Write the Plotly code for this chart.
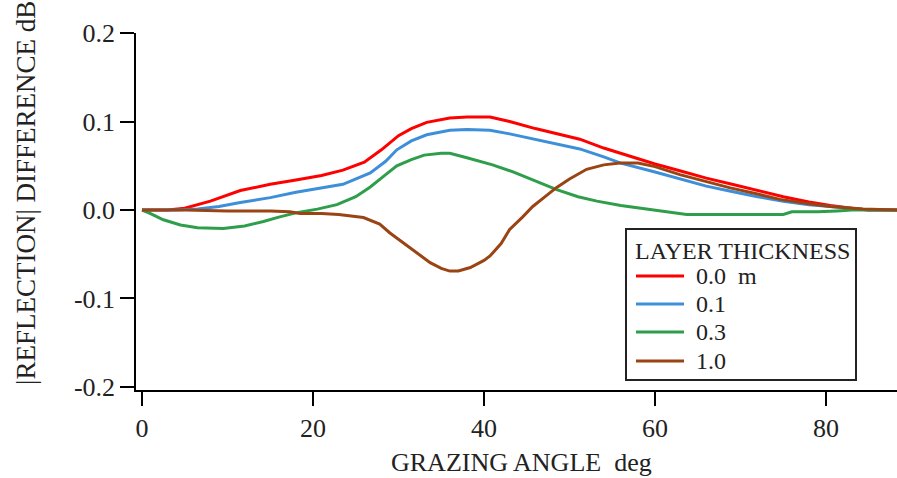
import plotly.graph_objects as go

# ---------------- data ----------------
series_names = ["0.0  m", "0.1", "0.3", "1.0"]
series_colors = ["#ff0000", "#3d8fd9", "#2e9e4a", "#9a4414"]

x_00 = [0, 3, 5, 8, 11.5, 15, 18, 21, 23.5, 26, 28, 30, 31.5, 33.3, 36, 38, 40.7, 43,
        46, 49, 51.2, 54, 57, 60, 63, 66, 69, 72, 75, 78, 80.5, 83, 85, 88.3]
y_00 = [0, 0, 0.002, 0.01, 0.022, 0.029, 0.034, 0.039, 0.045, 0.054, 0.068, 0.084, 0.092,
        0.099, 0.104, 0.105, 0.105, 0.1, 0.092, 0.085, 0.08, 0.07, 0.061, 0.052, 0.044,
        0.036, 0.029, 0.022, 0.015, 0.009, 0.005, 0.002, 0, 0]

x_01 = [0, 4, 6.5, 9, 11.5, 15, 18, 21, 23.5, 26.7, 28.5, 29.8, 31.5, 33.3, 36, 38, 40.7,
        43, 46, 49, 51.2, 54, 56, 60, 63, 66, 69, 72, 75, 78, 80.5, 83, 85, 88.3]
y_01 = [0, 0, 0.001, 0.004, 0.0085, 0.014, 0.02, 0.025, 0.029, 0.042, 0.055, 0.068, 0.078,
        0.085, 0.09, 0.091, 0.09, 0.086, 0.08, 0.074, 0.069, 0.06, 0.053, 0.043, 0.035,
        0.027, 0.021, 0.015, 0.010, 0.006, 0.004, 0.002, 0, 0]

x_03 = [0, 1, 2.5, 4.5, 6.5, 9.5, 12, 14.2, 16, 18.1, 20.5, 22.8, 25, 26.7, 28.5, 29.8,
        31.5, 33, 35, 36, 38, 39.5, 41, 43.4, 46, 48.5, 51, 53.2, 56, 59, 61, 63.7, 68, 72,
        75, 76, 79, 81.3, 83, 85, 88.3]
y_03 = [0, -0.004, -0.011, -0.017, -0.020, -0.021, -0.018, -0.013, -0.008, -0.003, 0.001,
        0.006, 0.015, 0.026, 0.04, 0.05, 0.057, 0.062, 0.064, 0.064, 0.059, 0.055, 0.051,
        0.043, 0.033, 0.023, 0.015, 0.01, 0.005, 0.001, -0.002, -0.005, -0.005, -0.005,
        -0.005, -0.002, -0.002, -0.001, 0, 0, 0]

x_10 = [0, 5, 10, 15, 17.3, 18.5, 21, 23, 25.9, 27.8, 29, 30.5, 32, 33.7, 35, 36, 37, 38.4,
        40, 40.7, 42, 43, 44.5, 45.7, 47, 48.5, 50, 52, 54, 55.9, 58, 60, 62.9, 66, 68.8,
        72, 74.6, 78, 80.5, 84.3, 88.3]
y_10 = [0, 0, -0.001, -0.001, -0.002, -0.004, -0.004, -0.005, -0.0085, -0.016, -0.026,
        -0.037, -0.048, -0.0595, -0.066, -0.069, -0.069, -0.065, -0.057, -0.052, -0.038,
        -0.022, -0.008, 0.004, 0.014, 0.0255, 0.035, 0.046, 0.051, 0.053, 0.053, 0.049,
        0.04, 0.032, 0.025, 0.018, 0.012, 0.007, 0.004, 0.001, 0]

series_x = [x_00, x_01, x_03, x_10]
series_y = [y_00, y_01, y_03, y_10]

x_ticks = [0, 20, 40, 60, 80]
y_ticks = [-0.2, -0.1, 0.0, 0.1, 0.2]
y_tick_text = ["-0.2", "-0.1", "0.0", "0.1", "0.2"]

x_title = "GRAZING ANGLE  deg"
y_title = "|REFLECTION| DIFFERENCE dB"
legend_title = "LAYER THICKNESS"

# ---------------- figure ----------------
W, H = 897, 478
L, R, T, B = 136, 0, 33, 88
PW, PH = W - L - R, H - T - B
FONT = "Liberation Serif, Times New Roman, serif"


def px(xp):
    return (xp - L) / PW


def py(yp):
    return (H - B - yp) / PH


fig = go.Figure()
for xs, ys, name, col in zip(series_x, series_y, series_names, series_colors):
    fig.add_trace(go.Scatter(x=xs, y=ys, mode="lines", name=name,
                             line=dict(color=col, width=3), showlegend=False))

axis_common = dict(showline=True, linecolor="black", linewidth=1.5, ticks="outside",
                   ticklen=14, tickwidth=1.5, tickcolor="black", showgrid=False,
                   zeroline=False, tickfont=dict(family=FONT, size=26, color="#222"))

fig.update_xaxes(range=[-0.7, 88.3], tickvals=x_ticks, **axis_common)
fig.update_yaxes(range=[-0.2034, 0.2], tickvals=y_ticks, ticktext=y_tick_text, **axis_common)

annotations = [
    dict(text=x_title, x=px(521), y=py(462), xref="paper", yref="paper",
         xanchor="center", yanchor="middle", showarrow=False,
         font=dict(family=FONT, size=26, color="#222")),
    dict(text=y_title, x=px(26), y=py(193), xref="paper", yref="paper",
         xanchor="center", yanchor="middle", textangle=-90, showarrow=False,
         font=dict(family=FONT, size=27, color="#222")),
    dict(text=legend_title, x=px(633), y=py(251), xref="paper", yref="paper",
         xanchor="left", yanchor="middle", showarrow=False,
         font=dict(family=FONT, size=24, color="#222")),
]

shapes = [
    dict(type="rect", xref="paper", yref="paper", x0=px(626), x1=px(856),
         y0=py(229), y1=py(380), line=dict(color="#222", width=2), fillcolor="white",
         layer="above"),
]

entry_y = [276, 304, 332, 361]
for name, col, ey in zip(series_names, series_colors, entry_y):
    shapes.append(dict(type="line", xref="paper", yref="paper", x0=px(636), x1=px(684),
                       y0=py(ey), y1=py(ey), line=dict(color=col, width=3), layer="above"))
    annotations.append(dict(text=name, x=px(694), y=py(ey), xref="paper", yref="paper",
                            xanchor="left", yanchor="middle", showarrow=False,
                            font=dict(family=FONT, size=24, color="#222")))

fig.update_layout(width=W, height=H, margin=dict(l=L, r=R, t=T, b=B, autoexpand=False),
                  paper_bgcolor="white", plot_bgcolor="white",
                  annotations=annotations, shapes=shapes, showlegend=False)

fig.write_html("out.html", config={"displayModeBar": False},
               post_script="document.body.style.margin='0';"
                           "document.body.style.overflow='hidden';")
